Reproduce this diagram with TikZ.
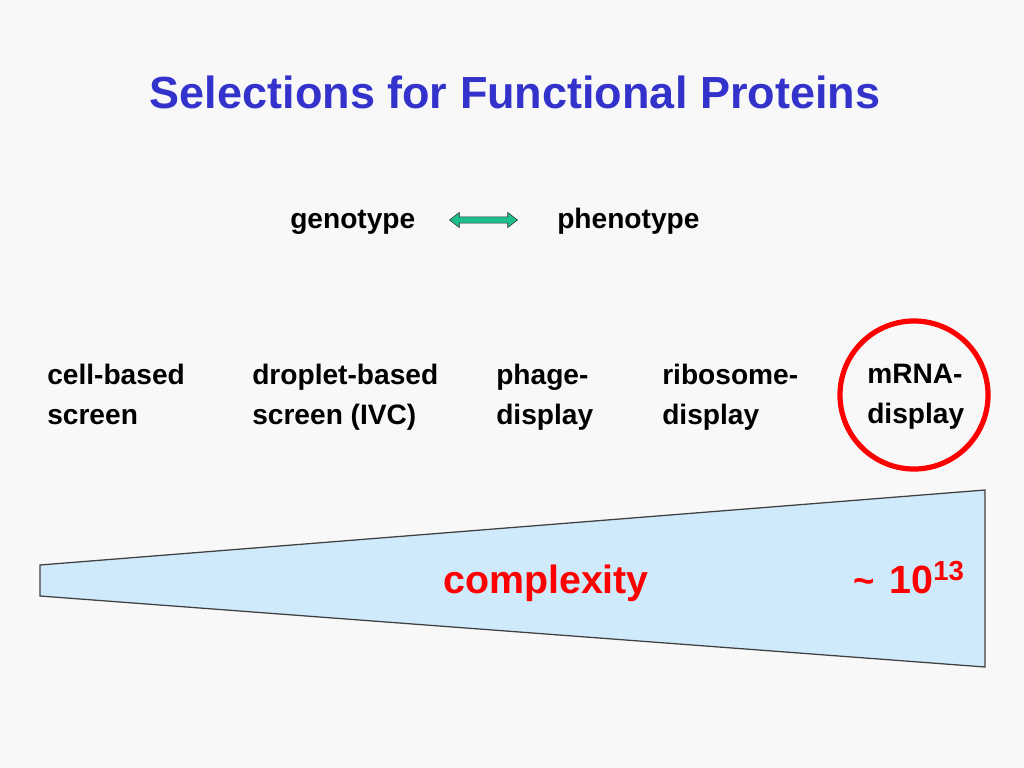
\documentclass[tikz,border=0pt]{standalone}
\usepackage{fontspec}
\setmainfont{Liberation Sans}
\usetikzlibrary{shapes.arrows, positioning}
\definecolor{titleblue}{RGB}{51,51,204}
\definecolor{wedgeblue}{RGB}{206,234,251}
\definecolor{linkgreen}{RGB}{28,190,140}
\definecolor{slidegray}{RGB}{248,248,248}
\tikzset{
  title/.style={
    inner sep=0pt, text=titleblue,
    font=\fontsize{32}{38}\selectfont\bfseries
  },
  term/.style={
    inner sep=0pt,
    font=\fontsize{20}{28.45}\selectfont\bfseries
  },
  method/.style={
    inner sep=0pt, align=left, anchor=north west,
    font=\fontsize{20}{28.45}\selectfont\bfseries
  },
  link/.style={
    double arrow, draw=black!80, thin, fill=linkgreen,
    minimum height=1.7cm, inner xsep=0pt, inner ysep=0.07cm,
    double arrow head extend=0.11cm, double arrow tip angle=75
  },
  ring/.style={
    circle, draw=red, line width=0.13cm,
    minimum size=3.7cm, inner sep=0pt
  },
  wedge/.style={
    draw=black!75, line width=0.9pt, fill=wedgeblue
  },
  big/.style={
    inner sep=0pt, text=red,
    font=\fontsize{28}{34}\selectfont\bfseries
  },
}

\begin{document}
\begin{tikzpicture}[x=0.025cm, y=-0.025cm]

  % ── slide ─────────────────────────────────────────────────────────────────
  \fill[slidegray] (0,0) rectangle (1024,768);

  % ── nodes ─────────────────────────────────────────────────────────────────
  \node[title, anchor=base] (head) at (515,109) {Selections for Functional Proteins};

  \node[term, anchor=base west] (geno)  at (290,228) {genotype};
  \node[term, anchor=base west] (pheno) at (557,228) {phenotype};
  \node[link] (gp) at (483.5,220) {};

  % methods (left to right)
  \node[method] (cell)     at (47,364)  {cell-based\\screen};
  \node[method] (droplet)  at (252,364) {droplet-based\\screen (IVC)};
  \node[method] (phage)    at (496,364) {phage-\\display};
  \node[method] (ribosome) at (662,364) {ribosome-\\display};
  \node[method] (mrna)     at (867,364) {mRNA-\\display};

  \node[ring] (mark) at (914,395) {};

  % ── wedge ─────────────────────────────────────────────────────────────────
  \draw[wedge] (40,565) -- (985,490) -- (985,667) -- (40,596) -- cycle;

  \node[big, anchor=base] (cplx) at (546,593) {complexity};
  \node[big, anchor=base west] (size) at (853,593)
    {{\fontsize{26}{30}\selectfont\textasciitilde}\hspace{0.1em} 10\textsuperscript{13}};

\end{tikzpicture}
\end{document}
